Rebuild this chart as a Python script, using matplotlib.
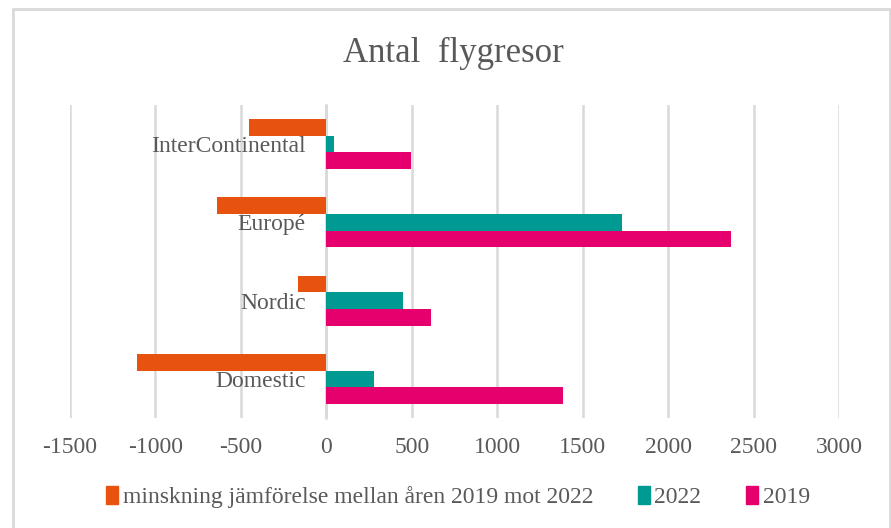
import matplotlib
matplotlib.use("Agg")
import matplotlib.pyplot as plt
from matplotlib.patches import Patch, Rectangle
import numpy as np

plt.rcParams['font.family'] = ['Liberation Serif', 'DejaVu Serif']

categories = ["Domestic", "Nordic", "Europé", "InterContinental"]
y2019 = [1386, 614, 2368, 497]
y2022 = [279, 450, 1731, 47]
minskning = [-1107, -164, -637, -450]
series_names = ["minskning jämförelse mellan åren 2019 mot 2022", "2022", "2019"]
xticks = [-1500, -1000, -500, 0, 500, 1000, 1500, 2000, 2500, 3000]

c_orange = "#E8520F"
c_teal = "#009A93"
c_mag = "#E5006D"
grid_c = "#D9D9D9"
text_c = "#595959"

fig = plt.figure(figsize=(8.91, 5.28), dpi=100)
ax = fig.add_axes([70 / 891, 1 - 418 / 528, 769 / 891, 313 / 528])

y = np.arange(len(categories))
h = 0.212
ax.barh(y + h, minskning, height=h, color=c_orange, zorder=3)
ax.barh(y, y2022, height=h, color=c_teal, zorder=3)
ax.barh(y - h, y2019, height=h, color=c_mag, zorder=3)

ax.set_xlim(-1500, 3000)
ax.set_ylim(-0.5, 3.5)
ax.set_xticks(xticks)
ax.set_xticklabels([str(v) for v in xticks])
ax.xaxis.grid(True, color=grid_c, linewidth=1.8, zorder=0)
ax.set_axisbelow(True)
for s in ["top", "right", "bottom"]:
    ax.spines[s].set_visible(False)
ax.spines["left"].set_position(("data", 0))
ax.spines["left"].set_color(grid_c)
ax.spines["left"].set_linewidth(1.8)
ax.set_yticks(y)
ax.set_yticklabels(categories)
ax.tick_params(axis="y", length=0, pad=15, labelsize=17, labelcolor=text_c)
ax.tick_params(axis="x", length=0, pad=14, labelsize=17, labelcolor=text_c)

fig.text(453 / 891, 1 - 53 / 528, "Antal  flygresor", ha="center", va="center",
         fontsize=25, color=text_c)

handles = [Patch(color=c_orange), Patch(color=c_teal), Patch(color=c_mag)]
fig.legend(handles, series_names, loc="center", bbox_to_anchor=(458 / 891, 1 - 497 / 528),
           ncol=3, frameon=False, fontsize=17, labelcolor=text_c,
           handlelength=0.5, handleheight=0.8, handletextpad=0.2, columnspacing=1.9)

fig.patches.append(Rectangle((13 / 891, -0.1), (890 - 13) / 891, 1.1 - 9 / 528,
                             transform=fig.transFigure, fill=False,
                             edgecolor=grid_c, linewidth=2))

fig.savefig("out.png", dpi=100)
